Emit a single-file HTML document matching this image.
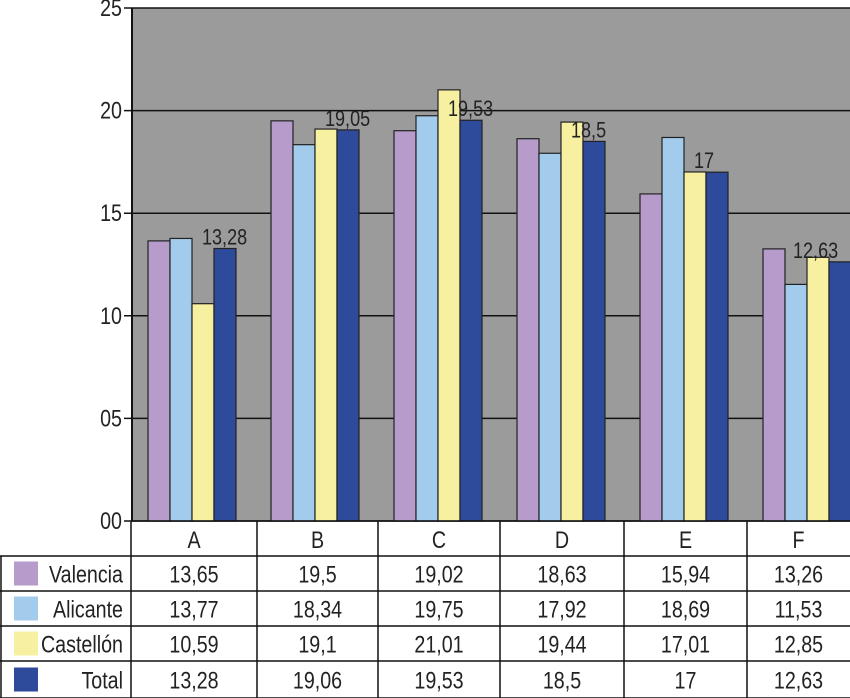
<!DOCTYPE html>
<html><head><meta charset="utf-8"><style>
body{margin:0;background:#fff;}
svg{display:block;font-family:"Liberation Sans",sans-serif;}
</style></head><body>
<svg id="c" width="850" height="698"></svg>
<script>
const categories=["A","B","C","D","E","F"];
const seriesNames=["Valencia","Alicante","Castellón","Total"];
const valencia=[13.65,19.5,19.02,18.63,15.94,13.26];
const alicante=[13.77,18.34,19.75,17.92,18.69,11.53];
const castellon=[10.59,19.1,21.01,19.44,17.01,12.85];
const total=[13.28,19.06,19.53,18.5,17,12.63];
const tableText=[["13,65","19,5","19,02","18,63","15,94","13,26"],["13,77","18,34","19,75","17,92","18,69","11,53"],["10,59","19,1","21,01","19,44","17,01","12,85"],["13,28","19,06","19,53","18,5","17","12,63"]];
const barLabels=["13,28","19,05","19,53","18,5","17","12,63"];
const yTicks=[0,5,10,15,20,25];
const yTickLabels=["00","05","10","15","20","25"];

const colors=["#b79ccb","#a3cbec","#f6f0a0","#2e4a9b"];
const NS="http://www.w3.org/2000/svg";
const svg=document.getElementById('c');
function el(t,a,p){const e=document.createElementNS(NS,t);for(const k in a)e.setAttribute(k,a[k]);(p||svg).appendChild(e);return e;}
function txt(x,yy,s,anchor,size){const e=el('text',{x:0,y:0,'text-anchor':anchor,'font-size':size,fill:'#222',transform:'translate('+x+','+yy+') scale(0.82,1)'});e.textContent=s;return e;}
const X0=132,X1=850,Y0=521,Y1=8;
const y=v=>Y0-(v/25)*(Y0-Y1);
const pitch=123,off=16,bw=22;
const gx=i=>X0+i*pitch;
const bg=el('rect',{x:X0,y:Y1,width:X1-X0,height:Y0-Y1,fill:'#9b9b9b'});


yTicks.forEach((t,i)=>{
  const g=el('line',{x1:X0-8,x2:X1,y1:y(t),y2:y(t),stroke:'#111','stroke-width':1.5});
  
  
  const tx=txt(X0-10,y(t)+8,yTickLabels[i],'end',24);
  
  
});
el('line',{x1:X0,x2:X0,y1:Y1,y2:Y0,stroke:'#111','stroke-width':2});
const series=[valencia,alicante,castellon,total];
categories.forEach((c,i)=>{
  series.forEach((s,j)=>{
    const r=el('rect',{x:gx(i)+off+j*bw,y:y(s[i]),width:bw,height:Y0-y(s[i]),fill:colors[j],stroke:'#222','stroke-width':1.2});
    
    
  });
  let lx=gx(i)+off+3*bw-12;
  if(lx+55>848)lx=848-55;
  const l=txt(lx,y(total[i])-4,barLabels[i],'start',22);
  
  
});
// table
const colB=[131,257,378,500,624,747,850];
const rowB=[521,556,591,626,661,698];
const ts={stroke:'#111','stroke-width':1.5,fill:'none'};
el('line',Object.assign({x1:131,x2:850,y1:521,y2:521},ts));
for(let r=1;r<rowB.length;r++)el('line',Object.assign({x1:0,x2:850,y1:rowB[r],y2:rowB[r]},ts));
colB.forEach((x,i)=>{if(i<6)el('line',Object.assign({x1:x,x2:x,y1:521,y2:698},ts));});
el('line',Object.assign({x1:1,x2:1,y1:556,y2:698},ts));
categories.forEach((c,i)=>{
  const t=txt((colB[i]+colB[i+1])/2,548,c,'middle',24);
  
  
});
seriesNames.forEach((n,r)=>{
  const cy=(rowB[r+1]+rowB[r+2])/2;
  const sw=el('rect',{x:14,y:cy-12,width:24,height:24,fill:colors[r]});
  
  
  const t=txt(123,cy+9,n,'end',24);
  
  
  tableText[r].forEach((v,i)=>{
    const tv=txt((colB[i]+colB[i+1])/2,cy+9,v,'middle',24);
    
    
  });
});
</script>
</body></html>
